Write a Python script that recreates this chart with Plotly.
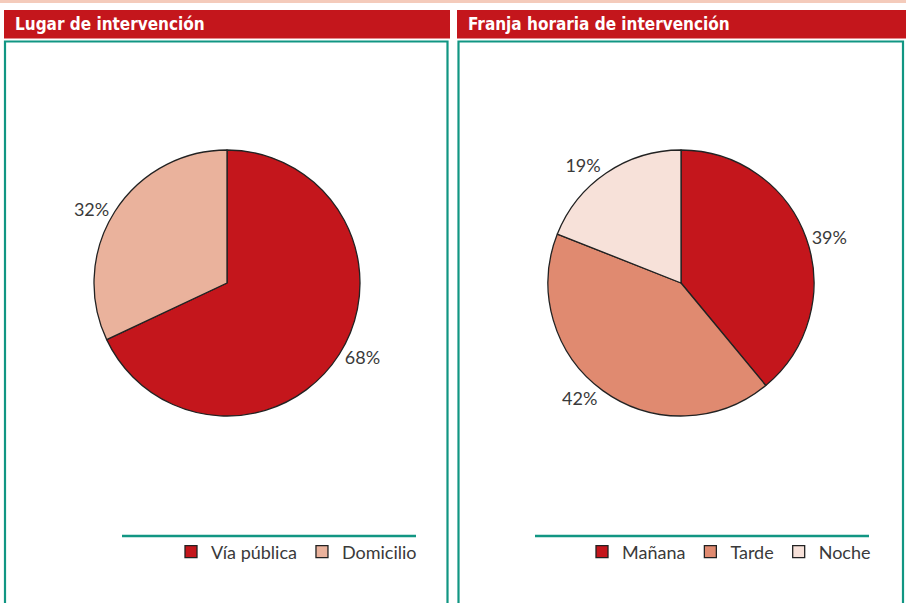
import plotly.graph_objects as go

W, H = 906, 603

# Data
titles = ["Lugar de intervención", "Franja horaria de intervención"]
lugar_labels = ["Vía pública", "Domicilio"]
lugar_values = [68, 32]
lugar_colors = ["#c4161c", "#eab29c"]
franja_labels = ["Mañana", "Tarde", "Noche"]
franja_values = [39, 42, 19]
franja_colors = ["#c4161c", "#e08a70", "#f7e1d9"]

RED = "#c4161c"
TEAL = "#119683"
TXT = "#3a3a3a"
FONT = "Lato, 'Open Sans', 'DejaVu Sans', sans-serif"
TFONT = "'Liberation Sans Narrow', 'DejaVu Sans Condensed', 'Roboto Condensed', Lato, sans-serif"

def px(x):
    return x / W

def py(y):
    return 1 - y / H

def pie(labels, values, colors, cx, legend):
    r = 133
    return go.Pie(
        labels=labels, values=values, sort=False, direction="clockwise", rotation=0,
        marker=dict(colors=colors, line=dict(color="#222222", width=1.3)),
        texttemplate="%{percent:.0%}", textposition="outside",
        textfont=dict(family=FONT, size=18, color=TXT),
        domain=dict(x=[px(cx - r), px(cx + r)], y=[py(283 + r), py(283 - r)]),
        hoverinfo="label+percent", legend=legend, automargin=False,
    )

fig = go.Figure()
fig.add_trace(pie(lugar_labels, lugar_values, lugar_colors, 227, "legend"))
fig.add_trace(pie(franja_labels, franja_values, franja_colors, 681, "legend2"))

shapes = [
    dict(type="rect", xref="paper", yref="paper", x0=0, x1=1, y0=py(3), y1=1,
         fillcolor="#f4cbbb", line_width=0, layer="below"),
    dict(type="rect", xref="paper", yref="paper", x0=px(4), x1=px(450), y0=py(38.5), y1=py(10),
         fillcolor=RED, line_width=0, layer="below"),
    dict(type="rect", xref="paper", yref="paper", x0=px(457), x1=px(906), y0=py(38.5), y1=py(10),
         fillcolor=RED, line_width=0, layer="below"),
    dict(type="rect", xref="paper", yref="paper", x0=px(5), x1=px(447.5), y0=py(610), y1=py(41.5),
         fillcolor="rgba(0,0,0,0)", line=dict(color=TEAL, width=2.2), layer="below"),
    dict(type="rect", xref="paper", yref="paper", x0=px(458.5), x1=px(903), y0=py(610), y1=py(41.5),
         fillcolor="rgba(0,0,0,0)", line=dict(color=TEAL, width=2.2), layer="below"),
    dict(type="line", xref="paper", yref="paper", x0=px(122), x1=px(416), y0=py(536), y1=py(536),
         line=dict(color=TEAL, width=2.5)),
    dict(type="line", xref="paper", yref="paper", x0=px(535), x1=px(869), y0=py(536), y1=py(536),
         line=dict(color=TEAL, width=2.5)),
]

annotations = [
    dict(text="<b>" + titles[0] + "</b>", xref="paper", yref="paper", x=px(13), y=py(24),
         xanchor="left", yanchor="middle", showarrow=False,
         font=dict(family=TFONT, size=17, color="white")),
    dict(text="<b>" + titles[1] + "</b>", xref="paper", yref="paper", x=px(466), y=py(24),
         xanchor="left", yanchor="middle", showarrow=False,
         font=dict(family=TFONT, size=17, color="white")),
]

leg = dict(orientation="h", yanchor="middle", xanchor="right", bgcolor="rgba(0,0,0,0)",
           font=dict(family=FONT, size=18, color=TXT), traceorder="normal",
           itemclick=False, itemdoubleclick=False)

fig.update_layout(
    width=W, height=H, margin=dict(l=0, r=0, t=0, b=0),
    paper_bgcolor="white", plot_bgcolor="white",
    shapes=shapes, annotations=annotations,
    showlegend=True,
    legend=dict(leg, x=px(422), y=py(552)),
    legend2=dict(leg, x=px(876), y=py(552)),
)

fig.write_html("out.html", config={"displayModeBar": False},
               post_script="document.body.style.margin='0';document.body.style.overflow='hidden';")
